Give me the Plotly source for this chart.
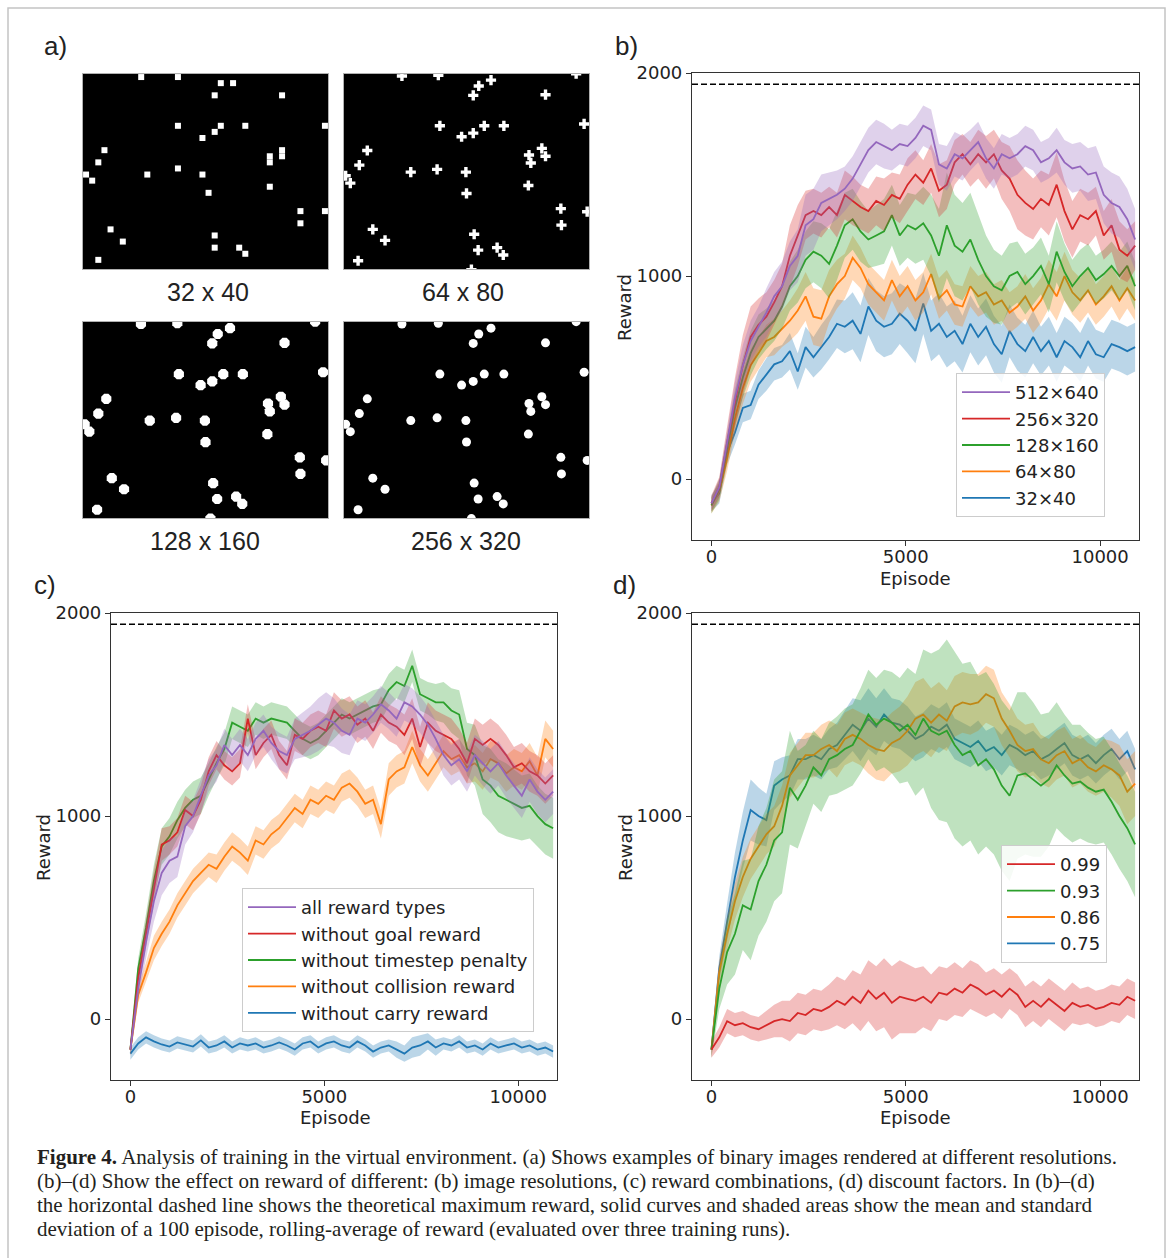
import numpy as np
import plotly.graph_objects as go

W, H = 1171, 1258


def fx(p):
    return p / W


def fy(p):
    return 1 - p / H


FONT = "DejaVu Sans"
SANS = "Liberation Sans"
SERIF = "Liberation Serif"

C_BLUE, C_ORANGE, C_GREEN, C_RED, C_PURPLE = "#1f77b4", "#ff7f0e", "#2ca02c", "#d62728", "#9467bd"

# ---------------- data ----------------
MAX_REWARD = 1945
X_END = 10900
X_TICKS = [0, 5000, 10000]
X_TICK_TEXT = ["0", "5000", "10000"]
Y_TICKS = [0, 1000, 2000]
Y_TICK_TEXT = ["0", "1000", "2000"]

# panel a: object positions in 40 x 32 pixel grid units (col, row)
OBJ_COL = [9.46, 15.4, 24.0, 37.9, 22.0, 21.1, 32.9, 15.65, 22.9, 26.1, 39.2, 21.1, 19.2, 3.8,
           32.3, 32.9, 30.2, 30.5, 2.5, 15.2, 0.27, 1.03, 10.9, 19.9, 30.1, 20.0, 35.4, 35.5,
           4.7, 6.7, 21.25, 21.9, 25.0, 26.0, 2.3, 39.7, 20.8]
OBJ_ROW = [0.33, 0.2, 1.0, -0.05, 1.96, 3.5, 3.4, 8.5, 8.5, 8.5, 8.2, 9.7, 10.3, 12.55,
           12.2, 13.5, 13.3, 14.6, 14.95, 15.65, 16.7, 17.9, 16.1, 16.1, 18.3, 19.6, 22.1, 24.8,
           25.5, 27.3, 26.3, 28.9, 28.5, 29.7, 30.65, 22.6, 32.1]
IMG_LABELS = ["32 x 40", "64 x 80", "128 x 160", "256 x 320"]

# panel b: image resolutions (mean, std)
B_NAMES = ["32×40", "64×80", "128×160", "256×320", "512×640"]
b_32x40 = [-120, -70, 130, 230, 350, 365, 465, 515, 565, 580, 630,
           530, 650, 600, 650, 700, 765, 750, 780, 715, 850, 780,
           750, 765, 815, 780, 730, 865, 730, 765, 700, 730, 665,
           765, 700, 750, 665, 615, 730, 665, 630, 700, 630, 680,
           600, 680, 650, 600, 680, 615, 600, 665, 650, 630, 650]
b_64x80 = [-130, -60, 100, 300, 450, 560, 620, 680, 700, 740, 780,
           830, 900, 800, 790, 900, 960, 1000, 1090, 1040, 960, 920,
           880, 980, 900, 950, 880, 920, 1010, 890, 930, 860, 850,
           950, 900, 920, 860, 880, 820, 850, 900, 830, 880, 960,
           900, 1000, 920, 880, 930, 860, 900, 950, 880, 940, 880]
b_128x160 = [-130, -50, 150, 350, 500, 620, 700, 740, 780, 850, 950,
             1000, 1080, 1120, 1100, 1060, 1150, 1250, 1280, 1220, 1180, 1200,
             1220, 1300, 1200, 1250, 1230, 1260, 1200, 1100, 1250, 1150, 1120,
             1180, 1080, 1000, 950, 930, 1000, 1020, 960, 1000, 1050, 960,
             1120, 1020, 950, 1000, 1040, 980, 1010, 1050, 1000, 1050, 950]
b_256x320 = [-120, -40, 180, 380, 560, 700, 760, 800, 870, 950, 1100,
             1200, 1300, 1320, 1300, 1340, 1300, 1400, 1370, 1340, 1320, 1370,
             1350, 1400, 1380, 1450, 1500, 1460, 1530, 1420, 1450, 1560, 1600,
             1550, 1600, 1560, 1600, 1520, 1480, 1400, 1360, 1330, 1380, 1350,
             1450, 1320, 1230, 1300, 1280, 1320, 1200, 1250, 1130, 1100, 1150]
b_512x640 = [-120, -40, 180, 400, 560, 680, 750, 820, 900, 950, 1050,
             1100, 1250, 1280, 1360, 1380, 1400, 1430, 1480, 1550, 1620, 1660,
             1640, 1620, 1650, 1640, 1680, 1740, 1720, 1550, 1530, 1600, 1580,
             1620, 1660, 1580, 1530, 1600, 1580, 1600, 1640, 1620, 1560, 1580,
             1620, 1560, 1530, 1540, 1500, 1510, 1400, 1360, 1340, 1280, 1180]
b_32x40_sd = [40, 50, 60, 60, 70, 70, 70, 80, 80, 80, 90,
              90, 100, 100, 110, 110, 120, 130, 140, 140, 140, 150,
              150, 150, 150, 160, 160, 150, 150, 150, 150, 150, 140,
              140, 140, 140, 140, 140, 130, 130, 130, 130, 120, 120,
              120, 120, 120, 120, 120, 120, 120, 120, 120, 120, 120]
b_64x80_sd = [40, 50, 60, 70, 80, 80, 80, 80, 90, 90, 100,
              110, 120, 140, 140, 130, 120, 110, 110, 100, 100, 100,
              100, 100, 100, 100, 100, 100, 100, 100, 100, 100, 100,
              100, 100, 100, 100, 100, 100, 100, 110, 110, 110, 120,
              120, 120, 110, 110, 110, 100, 100, 100, 100, 100, 100]
b_128x160_sd = [40, 50, 70, 90, 100, 110, 110, 100, 100, 110, 120,
                130, 140, 150, 160, 170, 170, 160, 150, 150, 140, 150,
                160, 150, 150, 160, 170, 180, 200, 230, 260, 250, 240,
                230, 220, 200, 180, 170, 160, 150, 150, 140, 140, 140,
                150, 140, 130, 130, 120, 120, 120, 120, 120, 120, 120]
b_256x320_sd = [40, 50, 80, 120, 150, 150, 130, 120, 110, 110, 150,
                150, 120, 110, 110, 100, 110, 120, 120, 110, 110, 120,
                130, 110, 120, 130, 120, 110, 120, 130, 120, 110, 100,
                110, 120, 130, 120, 140, 160, 170, 160, 150, 140, 150,
                160, 150, 140, 130, 130, 120, 120, 130, 140, 130, 120]
b_512x640_sd = [30, 40, 60, 80, 100, 100, 100, 120, 120, 120, 120,
                130, 150, 150, 140, 130, 120, 110, 110, 110, 110, 110,
                110, 100, 100, 100, 100, 100, 100, 100, 110, 110, 110,
                100, 100, 100, 100, 100, 100, 100, 100, 100, 100, 100,
                110, 110, 120, 120, 130, 130, 140, 150, 150, 150, 150]

# panel c: reward combinations
C_NAMES = ["without carry reward", "without collision reward", "without timestep penalty",
           "without goal reward", "all reward types"]
c_carry = [-170, -120, -90, -110, -125, -135, -115, -125, -135, -105, -140,
           -130, -110, -140, -120, -130, -120, -140, -130, -115, -130, -150,
           -120, -110, -140, -120, -110, -130, -140, -110, -130, -160, -140,
           -130, -150, -170, -140, -130, -110, -140, -120, -130, -110, -140,
           -130, -150, -120, -140, -130, -120, -140, -130, -150, -140, -160]
c_collision = [-150, 120, 230, 350, 420, 480, 560, 620, 680, 720, 760,
               740, 800, 850, 820, 780, 880, 860, 910, 940, 990, 1040,
               1010, 1080, 1060, 1100, 1080, 1140, 1160, 1120, 1060, 1080, 960,
               1180, 1220, 1240, 1340, 1250, 1200, 1260, 1320, 1280, 1300, 1240,
               1260, 1220, 1280, 1260, 1210, 1240, 1220, 1270, 1200, 1380, 1330]
c_timestep = [-150, 250, 450, 680, 850, 900, 980, 1040, 1080, 1100, 1180,
              1260, 1330, 1460, 1440, 1420, 1480, 1460, 1480, 1470, 1460, 1420,
              1380, 1360, 1380, 1420, 1460, 1500, 1480, 1500, 1520, 1540, 1550,
              1620, 1660, 1640, 1740, 1600, 1580, 1560, 1560, 1520, 1500, 1330,
              1300, 1180, 1150, 1100, 1080, 1060, 1040, 1050, 1000, 960, 940]
c_goal = [-150, 200, 420, 650, 860, 880, 920, 1030, 1000, 1080, 1220,
          1300, 1250, 1220, 1260, 1480, 1300, 1360, 1400, 1300, 1250, 1400,
          1380, 1420, 1440, 1420, 1520, 1480, 1500, 1450, 1480, 1420, 1500,
          1460, 1440, 1400, 1480, 1340, 1460, 1420, 1400, 1380, 1330, 1260,
          1380, 1350, 1380, 1350, 1300, 1240, 1260, 1220, 1200, 1160, 1200]
c_all = [-150, 150, 380, 580, 720, 780, 800, 950, 1000, 1100, 1200,
         1250, 1350, 1300, 1350, 1300, 1380, 1420, 1360, 1320, 1300, 1380,
         1400, 1420, 1450, 1480, 1460, 1420, 1400, 1480, 1460, 1500, 1550,
         1520, 1480, 1560, 1540, 1500, 1450, 1380, 1300, 1250, 1280, 1220,
         1300, 1260, 1220, 1260, 1200, 1150, 1100, 1180, 1120, 1080, 1120]
c_carry_sd = [30, 30, 30, 30, 30, 30, 30, 30, 30, 30, 30,
              30, 30, 30, 30, 30, 30, 30, 30, 30, 30, 30,
              30, 30, 30, 30, 30, 30, 30, 30, 30, 30, 30,
              30, 40, 40, 50, 50, 40, 40, 30, 30, 30, 30,
              30, 30, 30, 30, 30, 30, 30, 30, 30, 30, 30]
c_collision_sd = [30, 40, 50, 60, 60, 60, 60, 60, 60, 60, 60,
                  70, 70, 70, 70, 70, 70, 70, 70, 70, 70, 70,
                  70, 70, 70, 70, 70, 70, 70, 70, 70, 70, 70,
                  80, 80, 80, 80, 80, 80, 80, 80, 80, 80, 80,
                  90, 90, 90, 90, 90, 90, 90, 90, 90, 90, 90]
c_timestep_sd = [30, 50, 70, 80, 90, 90, 90, 90, 90, 90, 80,
                 80, 80, 80, 80, 80, 80, 80, 80, 80, 80, 80,
                 80, 80, 80, 80, 80, 80, 80, 80, 80, 80, 80,
                 80, 80, 80, 80, 80, 80, 90, 100, 110, 120, 130,
                 150, 170, 180, 180, 180, 170, 160, 160, 150, 150, 150]
c_goal_sd = [30, 50, 70, 80, 80, 70, 70, 70, 70, 70, 70,
             70, 70, 70, 70, 70, 70, 70, 70, 70, 70, 80,
             80, 80, 80, 80, 90, 90, 90, 90, 90, 90, 90,
             90, 90, 100, 100, 100, 100, 100, 100, 100, 100, 100,
             100, 100, 100, 100, 100, 100, 100, 100, 100, 100, 100]
c_all_sd = [30, 50, 80, 100, 110, 110, 100, 90, 80, 80, 80,
            80, 80, 80, 80, 80, 80, 80, 80, 90, 90, 100,
            110, 120, 130, 130, 120, 110, 100, 90, 90, 90, 90,
            90, 90, 90, 90, 90, 90, 90, 100, 100, 100, 100,
            100, 110, 110, 110, 110, 110, 110, 110, 110, 110, 110]

# panel d: discount factors
D_NAMES = ["0.75", "0.86", "0.93", "0.99"]
d_075 = [-150, 250, 480, 700, 880, 1030, 1000, 980, 1150, 1180, 1200,
         1280, 1280, 1300, 1280, 1330, 1350, 1400, 1450, 1420, 1480, 1440,
         1500, 1460, 1450, 1420, 1380, 1400, 1440, 1420, 1450, 1380, 1360,
         1340, 1370, 1320, 1340, 1300, 1350, 1330, 1300, 1320, 1280, 1300,
         1330, 1360, 1300, 1280, 1300, 1260, 1300, 1330, 1280, 1320, 1230]
d_086 = [-150, 230, 420, 580, 700, 790, 850, 910, 950, 1050, 1200,
         1250, 1300, 1300, 1330, 1350, 1320, 1380, 1400, 1380, 1350, 1330,
         1320, 1360, 1380, 1420, 1480, 1500, 1460, 1500, 1470, 1540, 1560,
         1550, 1560, 1600, 1580, 1480, 1420, 1350, 1320, 1330, 1280, 1260,
         1300, 1320, 1260, 1280, 1240, 1220, 1250, 1230, 1200, 1120, 1160]
d_093 = [-150, 150, 330, 420, 560, 540, 680, 760, 880, 920, 1140,
         1080, 1150, 1240, 1200, 1280, 1300, 1330, 1350, 1420, 1500, 1450,
         1480, 1460, 1420, 1450, 1400, 1480, 1420, 1400, 1420, 1350, 1300,
         1320, 1250, 1280, 1230, 1150, 1100, 1200, 1210, 1180, 1150, 1180,
         1250, 1200, 1160, 1170, 1140, 1120, 1130, 1070, 1000, 940, 860]
d_099 = [-150, -90, -10, -30, -20, -40, -50, -30, -10, 0, -10,
         30, 20, 50, 40, 60, 90, 70, 110, 80, 140, 100,
         130, 80, 110, 100, 90, 110, 80, 130, 120, 150, 130,
         170, 150, 120, 140, 110, 150, 120, 60, 90, 60, 100,
         70, 40, 80, 60, 70, 50, 60, 80, 70, 110, 90]
d_075_sd = [40, 60, 90, 120, 140, 150, 140, 130, 120, 110, 100,
            100, 100, 100, 100, 100, 110, 120, 130, 150, 150, 140,
            130, 120, 120, 120, 110, 110, 110, 110, 110, 100, 100,
            100, 100, 100, 100, 100, 100, 100, 100, 100, 100, 100,
            100, 100, 100, 100, 100, 100, 100, 100, 100, 100, 100]
d_086_sd = [40, 60, 80, 90, 100, 100, 100, 100, 100, 100, 110,
            110, 110, 110, 120, 120, 130, 130, 130, 130, 140, 150,
            150, 150, 160, 170, 180, 180, 170, 160, 150, 150, 150,
            150, 140, 140, 140, 130, 130, 130, 130, 130, 120, 120,
            120, 120, 120, 120, 120, 120, 130, 140, 150, 160, 160]
d_093_sd = [40, 100, 160, 200, 220, 250, 270, 280, 300, 300, 280,
            240, 200, 180, 180, 180, 190, 200, 200, 210, 220, 230,
            240, 250, 260, 280, 300, 340, 380, 420, 450, 460, 450,
            440, 440, 430, 420, 420, 420, 410, 400, 380, 350, 330,
            310, 300, 290, 280, 270, 260, 260, 260, 260, 260, 260]
d_099_sd = [40, 50, 60, 60, 60, 60, 60, 70, 80, 90, 100,
            100, 100, 100, 100, 110, 120, 120, 130, 140, 150, 160,
            170, 180, 180, 170, 160, 150, 140, 130, 130, 130, 120,
            120, 120, 110, 110, 110, 100, 100, 100, 100, 100, 100,
            100, 100, 100, 90, 90, 90, 90, 90, 90, 90, 90]

CAPTION = [
    "<b>Figure 4.</b> Analysis of training in the virtual environment. (a) Shows examples of binary images rendered at different resolutions.",
    "(b)–(d) Show the effect on reward of different: (b) image resolutions, (c) reward combinations, (d) discount factors. In (b)–(d)",
    "the horizontal dashed line shows the theoretical maximum reward, solid curves and shaded areas show the mean and standard",
    "deviation of a 100 episode, rolling-average of reward (evaluated over three training runs).",
]

# ---------------- figure ----------------
fig = go.Figure()


def rgba(hexc, a):
    h = hexc.lstrip("#")
    return "rgba(%d,%d,%d,%s)" % (int(h[0:2], 16), int(h[2:4], 16), int(h[4:6], 16), a)


def add_series(mean, sd, color, name, xa, ya, legend, rank):
    n = min(len(mean), len(sd))
    m = np.array(mean[:n], float)
    s = np.array(sd[:n], float)
    xs = np.linspace(0, X_END, n)
    fig.add_trace(go.Scatter(
        x=np.concatenate([xs, xs[::-1]]), y=np.concatenate([m + s, (m - s)[::-1]]),
        fill="toself", fillcolor=rgba(color, 0.3), line=dict(width=0), mode="lines",
        hoverinfo="skip", showlegend=False, xaxis=xa, yaxis=ya))
    fig.add_trace(go.Scatter(
        x=xs, y=m, mode="lines", line=dict(color=color, width=1.8), name=name,
        xaxis=xa, yaxis=ya, legend=legend, legendrank=rank))


colors5 = [C_BLUE, C_ORANGE, C_GREEN, C_RED, C_PURPLE]
b_means = [b_32x40, b_64x80, b_128x160, b_256x320, b_512x640]
b_sds = [b_32x40_sd, b_64x80_sd, b_128x160_sd, b_256x320_sd, b_512x640_sd]
for i, (m, s, c, nm) in enumerate(zip(b_means, b_sds, colors5, B_NAMES)):
    add_series(m, s, c, nm, "x", "y", "legend", 100 - i)

c_means = [c_carry, c_collision, c_timestep, c_goal, c_all]
c_sds = [c_carry_sd, c_collision_sd, c_timestep_sd, c_goal_sd, c_all_sd]
for i, (m, s, c, nm) in enumerate(zip(c_means, c_sds, colors5, C_NAMES)):
    add_series(m, s, c, nm, "x2", "y2", "legend2", 100 - i)

d_means = [d_075, d_086, d_093, d_099]
d_sds = [d_075_sd, d_086_sd, d_093_sd, d_099_sd]
for i, (m, s, c, nm) in enumerate(zip(d_means, d_sds, colors5[:4], D_NAMES)):
    add_series(m, s, c, nm, "x3", "y3", "legend3", 100 - i)

# panel a images
cols = np.array(OBJ_COL)
rows = np.array(OBJ_ROW)
img_specs = [
    ("x4", "y4", np.floor(cols) + 0.5, np.floor(rows) + 0.5, "square", 6),
    ("x5", "y5", cols, rows, "cross", 8.5),
    ("x6", "y6", cols, rows, "octagon", 11),
    ("x7", "y7", cols, rows, "circle", 9),
]
for xa, ya, xs, ys, sym, sz in img_specs:
    fig.add_trace(go.Scatter(x=xs, y=ys, mode="markers", xaxis=xa, yaxis=ya,
                             marker=dict(symbol=sym, size=sz, color="white", line=dict(width=0)),
                             showlegend=False, hoverinfo="skip"))

layout = dict(
    width=W, height=H, margin=dict(l=0, r=0, t=0, b=0, pad=0), autosize=False,
    paper_bgcolor="white", plot_bgcolor="white",
    font=dict(family=FONT, size=18, color="#222"),
    hovermode=False, showlegend=True,
)

axis_common = dict(showline=True, mirror=True, linecolor="#333", linewidth=1.2,
                   ticks="outside", ticklen=5, tickwidth=1.2, tickcolor="#333", automargin=False,
                   showgrid=False, zeroline=False, tickfont=dict(size=18, family=FONT, color="#222"))

chart_boxes = {"": (692, 1139, 73, 540), "2": (111, 557, 613, 1080), "3": (692, 1139, 613, 1080)}
for k, (x0, x1, y0, y1) in chart_boxes.items():
    layout["xaxis" + k] = dict(axis_common, domain=[fx(x0), fx(x1)], range=[-500, 11000],
                               tickvals=X_TICKS, ticktext=X_TICK_TEXT, anchor="y" + k,
                               ticklabelstandoff=-5)
    layout["yaxis" + k] = dict(axis_common, domain=[fy(y1), fy(y0)], range=[-300, 2000],
                               tickvals=Y_TICKS, ticktext=Y_TICK_TEXT, anchor="x" + k)

img_boxes = {"4": (83, 328, 74, 269), "5": (344, 589, 74, 269), "6": (83, 328, 322, 518), "7": (344, 589, 322, 518)}
img_axis = dict(showline=True, mirror=True, linecolor="#b0b0b0", linewidth=1, ticks="", automargin=False,
                showticklabels=False, showgrid=False, zeroline=False)
shapes = []
for k, (x0, x1, y0, y1) in img_boxes.items():
    layout["xaxis" + k] = dict(img_axis, domain=[fx(x0), fx(x1)], range=[0, 40], anchor="y" + k)
    layout["yaxis" + k] = dict(img_axis, domain=[fy(y1), fy(y0)], range=[32, 0], anchor="x" + k)
    shapes.append(dict(type="rect", xref="x%s domain" % k, yref="y%s domain" % k, x0=0, x1=1, y0=0, y1=1,
                       fillcolor="black", line=dict(width=0), layer="below"))

for k in ["", "2", "3"]:
    shapes.append(dict(type="line", xref="x%s domain" % k, yref="y" + k, x0=0, x1=1,
                       y0=MAX_REWARD, y1=MAX_REWARD, line=dict(color="black", width=1.5, dash="6px,3px")))

shapes.append(dict(type="rect", xref="paper", yref="paper", x0=fx(8), x1=fx(1165), y0=fy(1275), y1=fy(8),
                   line=dict(color="#c4c4c4", width=1.5), fillcolor="rgba(0,0,0,0)"))
layout["shapes"] = shapes

leg_common = dict(xanchor="left", yanchor="top", bgcolor="rgba(255,255,255,0.85)", bordercolor="#cccccc",
                  borderwidth=1, font=dict(size=18, family=FONT, color="#222"),
                  traceorder="normal", itemwidth=48)
layout["legend"] = dict(leg_common, x=fx(956), y=fy(373))
layout["legend2"] = dict(leg_common, x=fx(242), y=fy(888))
layout["legend3"] = dict(leg_common, x=fx(1001), y=fy(845))

ann = []
for txt, x, y in zip(["a)", "b)", "c)", "d)"], [55, 626, 45, 624], [46, 46, 585, 585]):
    ann.append(dict(text=txt, x=fx(x), y=fy(y), xref="paper", yref="paper", showarrow=False,
                    font=dict(size=26, family=SANS, color="#222"), xanchor="center", yanchor="middle"))
for txt, x, y in zip(IMG_LABELS, [208, 463, 205, 466], [292, 292, 541, 541]):
    ann.append(dict(text=txt, x=fx(x), y=fy(y), xref="paper", yref="paper", showarrow=False,
                    font=dict(size=25, family=SANS, color="#222"), xanchor="center", yanchor="middle"))
for x, y in [(625, 308), (43, 848), (625, 848)]:
    ann.append(dict(text="Reward", x=fx(x), y=fy(y), xref="paper", yref="paper", showarrow=False,
                    textangle=-90, font=dict(size=18, family=FONT, color="#222"), xanchor="center", yanchor="middle"))
for x, y in [(915, 578), (335, 1117), (915, 1117)]:
    ann.append(dict(text="Episode", x=fx(x), y=fy(y), xref="paper", yref="paper", showarrow=False,
                    font=dict(size=18, family=FONT, color="#222"), xanchor="center", yanchor="middle"))
for i, line in enumerate(CAPTION):
    ann.append(dict(text=line, x=fx(35), y=fy(1157 + 24 * i), xref="paper", yref="paper", showarrow=False,
                    font=dict(size=21, family=SERIF, color="#231f20"), xanchor="left", yanchor="middle"))
layout["annotations"] = ann

fig.update_layout(**layout)
fig.write_html("out.html", config={"displayModeBar": False},
               post_script="document.body.style.margin='0';document.body.style.overflow='hidden';")
